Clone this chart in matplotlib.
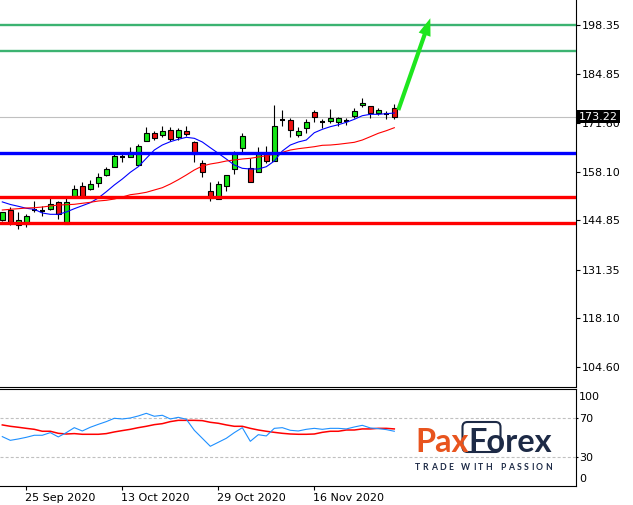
import matplotlib
matplotlib.use('Agg')
import matplotlib.pyplot as plt
import matplotlib.transforms as mtransforms
from matplotlib.patches import FancyBboxPatch
import numpy as np
import pandas as pd

# ---------------- data ----------------
dates = pd.to_datetime([
    '2020-09-22', '2020-09-23', '2020-09-24', '2020-09-25', '2020-09-28', '2020-09-29', '2020-09-30',
    '2020-10-01', '2020-10-02', '2020-10-05', '2020-10-06', '2020-10-07', '2020-10-08', '2020-10-09',
    '2020-10-12', '2020-10-13', '2020-10-14', '2020-10-15', '2020-10-16', '2020-10-19', '2020-10-20',
    '2020-10-21', '2020-10-22', '2020-10-23', '2020-10-26', '2020-10-27', '2020-10-28', '2020-10-29',
    '2020-10-30', '2020-11-02', '2020-11-03', '2020-11-04', '2020-11-05', '2020-11-06', '2020-11-09',
    '2020-11-10', '2020-11-11', '2020-11-12', '2020-11-13', '2020-11-16', '2020-11-17', '2020-11-18',
    '2020-11-19', '2020-11-20', '2020-11-23', '2020-11-24', '2020-11-25', '2020-11-26', '2020-11-27',
    '2020-11-30'])

opens = [144.86, 147.68, 143.49, 143.85, 147.76, 147.49, 147.87, 149.79, 143.77, 151.60,
         154.17, 153.52, 155.16, 157.35, 159.54, 162.12, 162.28, 160.09, 166.66, 168.69,
         168.31, 169.67, 167.59, 169.32, 166.22, 160.47, 152.80, 150.61, 154.26, 158.91,
         164.58, 159.10, 158.01, 163.29, 161.02, 172.33, 172.33, 168.31, 170.22, 174.44,
         171.70, 172.14, 171.87, 172.06, 173.43, 176.36, 176.17, 174.33, 173.84, 175.54]
highs = [147.22, 148.42, 147.22, 146.59, 150.15, 148.78, 150.89, 150.23, 151.16, 154.53,
         155.35, 155.82, 157.73, 159.54, 163.38, 163.38, 164.94, 165.76, 170.33, 169.32,
         170.69, 170.50, 170.22, 170.69, 166.50, 161.38, 155.27, 155.62, 157.19, 163.84,
         168.77, 162.01, 164.94, 165.13, 176.44, 175.07, 172.80, 170.50, 172.52, 175.15,
         172.52, 175.26, 173.07, 172.96, 175.54, 178.36, 176.17, 175.70, 174.80, 176.80]
lows = [144.67, 143.49, 142.56, 142.94, 147.05, 145.96, 147.68, 145.30, 143.77, 151.32,
        151.05, 153.16, 154.06, 157.08, 159.54, 160.91, 162.28, 160.09, 166.66, 166.85,
        167.76, 166.66, 166.85, 167.87, 160.83, 156.80, 150.15, 150.61, 152.97, 157.46,
        163.48, 155.27, 158.01, 160.47, 161.02, 170.77, 167.59, 167.76, 168.85, 171.70,
        170.22, 171.43, 170.77, 171.04, 172.88, 175.81, 172.88, 173.78, 172.52, 172.52]
closes = [147.05, 144.31, 144.94, 145.96, 147.76, 147.49, 149.24, 146.50, 149.79, 153.43,
          151.52, 154.72, 156.72, 158.91, 162.47, 162.12, 163.48, 165.21, 168.69, 167.48,
          169.24, 167.21, 169.59, 168.58, 162.94, 158.01, 150.89, 154.72, 157.19, 163.10,
          167.87, 155.27, 163.10, 161.02, 170.61, 172.33, 169.51, 169.32, 171.78, 173.07,
          171.70, 172.80, 172.80, 172.06, 174.71, 177.07, 174.33, 174.99, 173.84, 173.22]

ma_fast = [149.90, 149.20, 148.70, 148.15, 147.87, 146.86, 146.50, 146.50, 147.13, 148.04,
           148.86, 149.68, 150.97, 152.69, 154.53, 156.17, 158.01, 159.54, 161.84, 164.11,
           165.48, 166.39, 167.05, 167.59, 167.32, 166.31, 164.74, 163.21, 161.65, 160.01,
           159.10, 158.91, 158.91, 159.54, 161.10, 163.84, 165.48, 166.31, 166.85, 168.85,
           169.78, 170.50, 171.04, 171.70, 172.52, 173.51, 173.89, 173.89, 174.06, 174.25]
ma_slow = [147.68, 147.87, 148.04, 148.23, 148.31, 148.50, 148.78, 149.05, 149.13, 149.24,
           149.52, 149.79, 150.15, 150.34, 150.69, 151.24, 151.87, 152.15, 152.53, 153.16,
           153.79, 154.80, 155.98, 157.27, 158.64, 159.73, 160.28, 160.64, 161.10, 161.38,
           161.65, 161.84, 162.20, 162.55, 162.94, 163.48, 164.11, 164.47, 164.74, 165.02,
           165.40, 165.48, 165.68, 165.95, 166.22, 166.85, 167.76, 168.69, 169.40, 170.22]

osc_fast = [51.2, 47.4, 48.8, 50.5, 52.6, 52.6, 55.3, 50.9, 55.3, 60.4,
            57.0, 60.8, 63.8, 66.6, 70.0, 69.3, 70.3, 72.4, 75.1, 72.1,
            73.1, 69.3, 71.0, 69.0, 57.7, 49.5, 41.3, 45.4, 49.5, 55.3,
            60.4, 46.4, 53.2, 51.9, 59.7, 60.4, 57.7, 57.0, 58.7, 59.7,
            58.7, 59.7, 59.7, 59.1, 61.1, 62.8, 60.1, 59.4, 58.4, 56.7]
osc_slow = [63.2, 61.8, 60.8, 59.7, 58.7, 56.7, 56.7, 54.6, 53.9, 54.3,
            53.6, 53.6, 53.6, 54.3, 56.0, 57.4, 58.7, 60.4, 61.8, 63.5,
            64.5, 66.6, 67.9, 67.9, 67.9, 67.6, 65.9, 64.9, 63.2, 61.8,
            61.8, 59.7, 58.0, 56.7, 55.6, 54.6, 53.9, 53.6, 53.6, 53.9,
            55.6, 56.7, 56.7, 58.0, 58.0, 59.1, 59.1, 59.7, 59.7, 59.1]

levels_green = [198.35, 191.15]
levels_blue = [163.21]
levels_red = [151.16, 144.04]
last_price = 173.22
target_price = 200.2
price_ticks = [104.60, 118.10, 131.35, 144.85, 158.10, 171.60, 184.85, 198.35]
osc_levels = [70, 30]
osc_labels = ['100', '70', '30', '0']
date_ticks = ['2020-09-25', '2020-10-13', '2020-10-29', '2020-11-16']

# ---------------- figure ----------------
W, H = 633, 505
fig = plt.figure(figsize=(W / 100, H / 100), dpi=100)
fig.patch.set_facecolor('white')

main_bottom_px, osc_top_px, osc_bottom_px, right_px = 386.5, 388.5, 486.3, 576
ax = fig.add_axes([0, (H - main_bottom_px) / H, right_px / W, main_bottom_px / H])
axo = fig.add_axes([0, (H - osc_bottom_px) / H, right_px / W, (osc_bottom_px - osc_top_px) / H])

x = np.arange(len(closes))
o, h, l, c = (np.array(v) for v in (opens, highs, lows, closes))
xlim = (-0.2875, 71.71)

# candles
up = c > o
dn = c < o
dj = c == o
ax.vlines(x, l, h, color='black', lw=0.8, zorder=2)
ax.bar(x[up], c[up] - o[up], bottom=o[up], width=0.55, color='#14e614',
       edgecolor='black', lw=0.8, zorder=3)
ax.bar(x[dn], o[dn] - c[dn], bottom=c[dn], width=0.55, color='#ee1111',
       edgecolor='black', lw=0.8, zorder=3)
ax.hlines(c[dj], x[dj] - 0.32, x[dj] + 0.32, color='black', lw=1.5, zorder=3)

# moving averages
ax.plot(x, ma_fast, color='#0000ff', lw=0.8, zorder=4)
ax.plot(x, ma_slow, color='#ff0000', lw=0.8, zorder=4)

# levels
ax.axhline(last_price, color='#c0c0c0', lw=0.8, zorder=1)
for v in levels_green:
    ax.axhline(v, color='#3cb371', lw=1.7, zorder=5)
for v in levels_blue:
    ax.axhline(v, color='#0000ff', lw=2.4, zorder=5)
for v in levels_red:
    ax.axhline(v, color='#ff0000', lw=2.4, zorder=5)

# forecast arrow
ax.annotate('', xy=(x[-1] + 4.5, target_price), xytext=(x[-1] + 0.5, 175.07),
            arrowprops=dict(arrowstyle='simple,head_length=1.25,head_width=0.9,tail_width=0.3',
                            mutation_scale=10, color='#1ee61e', lw=0,
                            shrinkA=0, shrinkB=0), zorder=6)

ax.set_xlim(*xlim)
ax.set_ylim(99.34, 205.20)
for s in ('left', 'top'):
    ax.spines[s].set_visible(False)
for s in ('right', 'bottom'):
    ax.spines[s].set_linewidth(0.8)
ax.yaxis.tick_right()
ax.set_yticks(price_ticks)
ax.set_yticklabels([f'{v:.2f}' for v in price_ticks])
ax.tick_params(axis='y', direction='out', length=3, width=0.8, pad=1.5, labelsize=8)
ax.set_xticks([])

blend = mtransforms.blended_transform_factory(ax.transAxes, ax.transData)
ax.text(1.005, last_price, f'{last_price:.2f}', transform=blend, color='white', fontsize=8,
        va='center', ha='left', clip_on=False, zorder=10,
        bbox=dict(boxstyle='square,pad=0.15', fc='black', ec='none'))

# oscillator panel
axo.plot(x, osc_fast, color='#1e90ff', lw=0.8, zorder=3)
axo.plot(x, osc_slow, color='#ff0000', lw=1.1, zorder=2)
for v in osc_levels:
    axo.axhline(v, color='#c0c0c0', lw=0.8, ls=(0, (2.7, 1.9)), zorder=1)
axo.set_xlim(*xlim)
axo.set_ylim(0.26, 100.56)
axo.spines['left'].set_visible(False)
for s in ('right', 'bottom', 'top'):
    axo.spines[s].set_linewidth(0.8)
axo.yaxis.tick_right()
axo.set_yticks(osc_levels)
axo.set_yticklabels(osc_labels[1:3])
axo.tick_params(axis='y', direction='out', length=1.5, width=0.8, pad=0.6, labelsize=8)
axo.text(1.0057, 0.913, osc_labels[0], transform=axo.transAxes, fontsize=8, va='center', ha='left')
axo.text(1.0057, 0.0746, osc_labels[3], transform=axo.transAxes, fontsize=8, va='center', ha='left')

tick_idx = [dates.get_loc(pd.Timestamp(d)) for d in date_ticks]
axo.set_xticks(tick_idx)
axo.set_xticklabels([pd.Timestamp(d).strftime('%d %b %Y') for d in date_ticks])
axo.tick_params(axis='x', direction='out', length=3, width=0.8, pad=1.5, labelsize=8)
shift = mtransforms.ScaledTranslation(-1.5 / 100, 0, fig.dpi_scale_trans)
for lab in axo.get_xticklabels():
    lab.set_ha('left')
    lab.set_transform(lab.get_transform() + shift)

# ---------------- logo ----------------
renderer = fig.canvas.get_renderer()
ident = mtransforms.IdentityTransform()
orange, navy = '#e8541e', '#1d2a46'

def width_of(s, **kw):
    t = fig.text(0, 0, s, transform=ident, **kw)
    w = t.get_window_extent(renderer).width
    t.remove()
    return w

logo_kw = dict(family='Lato', fontweight='bold')
fs = 20 * 137 / width_of('PaxForex', fontsize=20, **logo_kw)
base_y = H - 451.7
t1 = fig.text(415, base_y, 'Pax', transform=ident, fontsize=fs, color=orange,
              va='baseline', ha='left', **logo_kw)
w1 = t1.get_window_extent(renderer).width
fig.text(415 + w1, base_y, 'Forex', transform=ident, fontsize=fs, color=navy,
         va='baseline', ha='left', **logo_kw)
fig.add_artist(FancyBboxPatch((415 + w1 - 6, H - 452), 38, 30,
                              boxstyle='round,pad=0,rounding_size=5', transform=ident,
                              fill=False, ec=navy, lw=1.5))

slogan = 'TRADE WITH PASSION'
skw = dict(family='Lato', fontweight='bold', fontsize=6.2, color=navy)
widths = [width_of(ch, **skw) if ch != ' ' else 3.0 for ch in slogan]
gap = (137 - sum(widths)) / (len(slogan) - 1)
xp = 415
for ch, w in zip(slogan, widths):
    if ch != ' ':
        fig.text(xp, H - 468, ch, transform=ident, va='center', ha='left', **skw)
    xp += w + gap

fig.savefig('out.png', dpi=100)
